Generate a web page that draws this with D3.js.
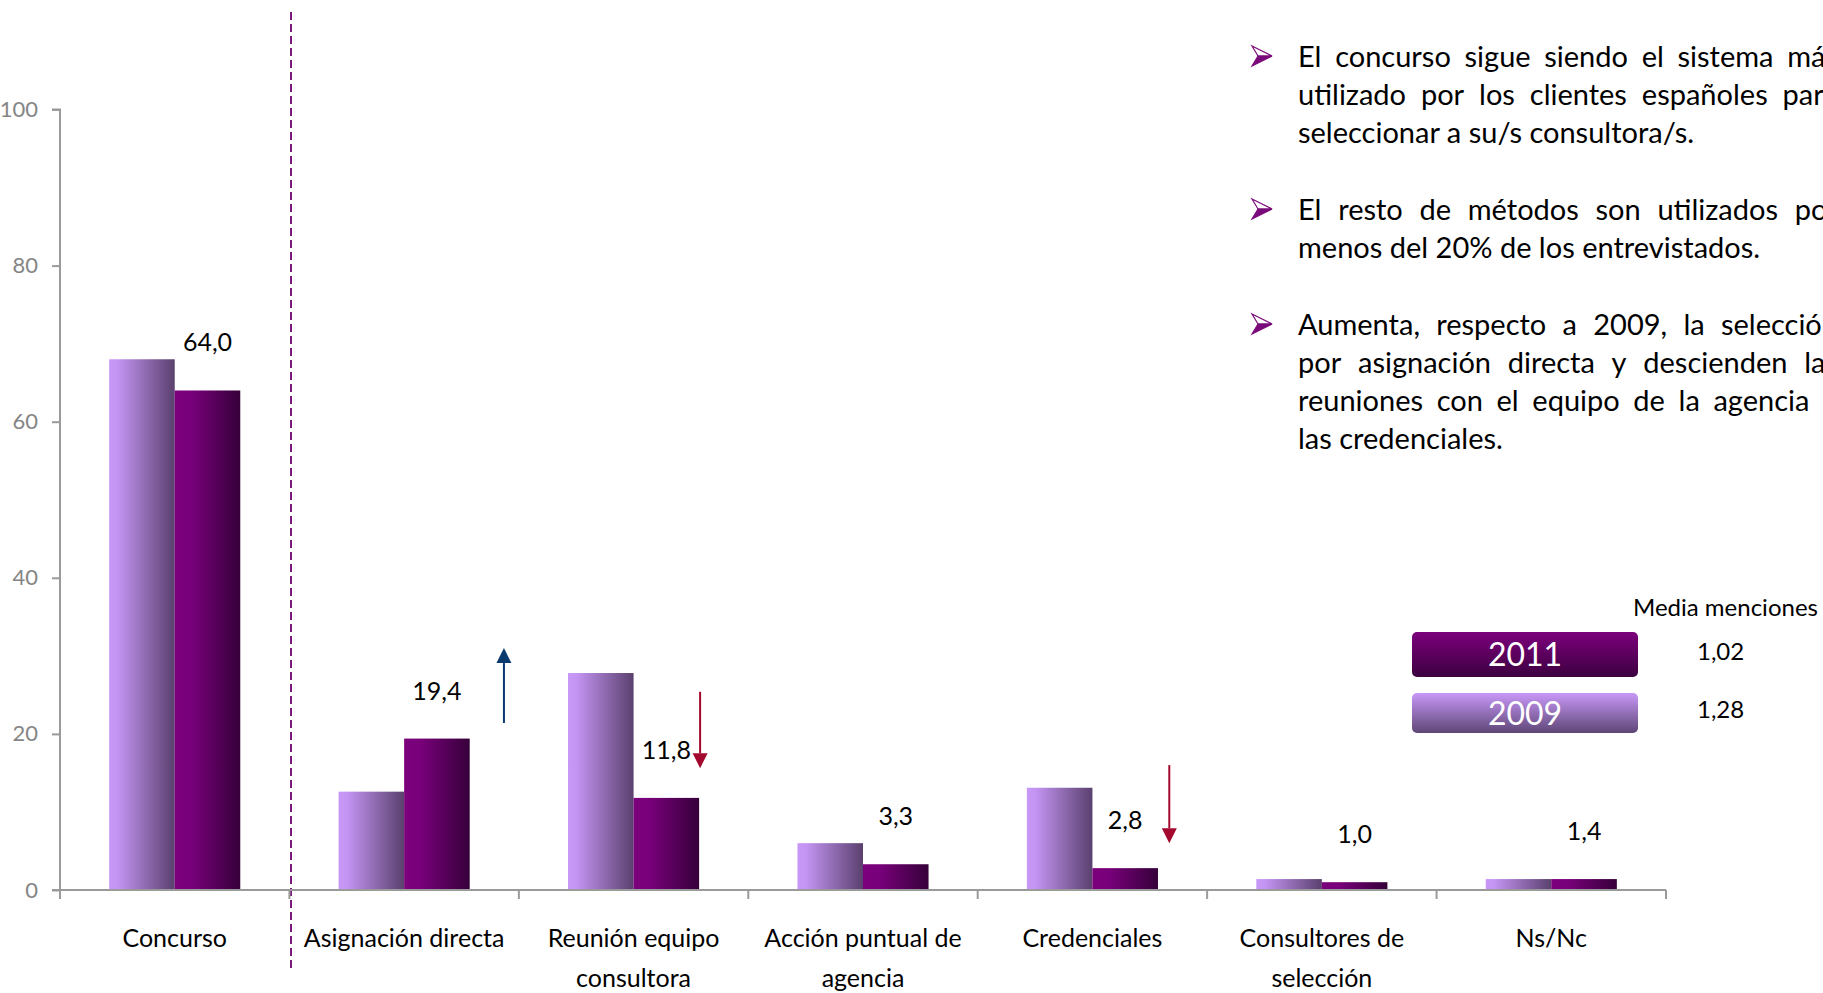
<!DOCTYPE html>
<html><head><meta charset="utf-8">
<script src="https://cdn.jsdelivr.net/npm/d3@7"></script>
<style>
html,body{margin:0;padding:0;background:#fff;overflow:hidden}
svg{display:block}
text{font-family:Lato,"Open Sans",sans-serif}
</style>
</head><body>
<svg id="chart" width="1823" height="993"></svg>
<script>
// ---------- data ----------
const categories = ["Concurso","Asignación directa","Reunión equipo consultora","Acción puntual de agencia","Credenciales","Consultores de selección","Ns/Nc"];
const categoryLines = [["Concurso"],["Asignación directa"],["Reunión equipo","consultora"],["Acción puntual de","agencia"],["Credenciales"],["Consultores de","selección"],["Ns/Nc"]];
const series = ["2009","2011"];
const values2009 = [68.0, 12.6, 27.8, 6.0, 13.1, 1.4, 1.4];
const values2011 = [64.0, 19.4, 11.8, 3.3, 2.8, 1.0, 1.4];
const yTicks = [0,20,40,60,80,100];
const legendYears = ["2011","2009"];
const legendMentions = ["1,02","1,28"];
const mentionsTitle = "Media menciones";
// trend arrows: category, direction, from value, to value
const trendCats = ["Asignación directa","Reunión equipo consultora","Credenciales"];
const trendFrom = [21.4, 25.4, 16.0];
const trendTo = [31.0, 15.6, 6.0];
const trendColor = ["#0b3a6e","#a3092e","#a3092e"];
const trendPos = [0.935, 0.79, 0.835];
const bulletParas = [
  ["El concurso sigue siendo el sistema más","utilizado por los clientes españoles para","seleccionar a su/s consultora/s."],
  ["El resto de métodos son utilizados por","menos del 20% de los entrevistados."],
  ["Aumenta, respecto a 2009, la selección","por asignación directa y descienden las","reuniones con el equipo de la agencia y","las credenciales."]
];

// ---------- layout ----------
const svg = d3.select("#chart");
const defs = svg.append("defs");
function hGrad(id, stops){
  const g = defs.append("linearGradient").attr("id",id).attr("x1","0").attr("x2","1").attr("y1","0").attr("y2","0");
  stops.forEach(s=>g.append("stop").attr("offset",s[0]).attr("stop-color",s[1]));
}
function vGrad(id, stops){
  const g = defs.append("linearGradient").attr("id",id).attr("x1","0").attr("x2","0").attr("y1","0").attr("y2","1");
  stops.forEach(s=>g.append("stop").attr("offset",s[0]).attr("stop-color",s[1]));
}
hGrad("g2009",[[0,"#c898f8"],[0.12,"#c595f4"],[1,"#5a406e"]]);
hGrad("g2011",[[0,"#7c007c"],[0.25,"#78007a"],[1,"#36003a"]]);
vGrad("l2011",[[0,"#7c007c"],[1,"#3c0040"]]);
vGrad("l2009",[[0,"#c898f8"],[1,"#5e4676"]]);

const y = d3.scaleLinear().domain([0,100]).range([890,109.5]);
const x0 = d3.scaleBand().domain(categories).range([60,1666]).padding(0);
const x1 = d3.scaleBand().domain(series).range([0,x0.bandwidth()]).paddingInner(0).paddingOuter(0.75);
const fmt = v => d3.format(".1f")(v).replace(".",",");

// dashed separator
svg.append("line").attr("x1",291).attr("x2",291).attr("y1",12).attr("y2",968)
  .attr("stroke","#7a1a7a").attr("stroke-width",2).attr("stroke-dasharray","8,4");

// y axis
const yAxis = svg.append("g").attr("transform","translate(60,0)")
  .call(d3.axisLeft(y).tickValues(yTicks).tickSize(8).tickPadding(14).tickFormat(d3.format("d")));
yAxis.selectAll("path,line").attr("stroke","#9a9a9a").attr("stroke-width",2);
yAxis.select(".domain").attr("d","M-8,109.5H0V890");
yAxis.selectAll("text").attr("fill","#858585").style("font-size","22px").style("font-family","Lato");

// bars
const data = categories.map((c,i)=>({cat:c, v:{"2009":values2009[i],"2011":values2011[i]}}));
const groups = svg.append("g").selectAll("g").data(data).join("g")
  .attr("transform",d=>`translate(${x0(d.cat)},0)`);
groups.selectAll("rect").data(d=>series.map(s=>({s, v:d.v[s]}))).join("rect")
  .attr("x",d=>x1(d.s)).attr("width",x1.bandwidth())
  .attr("y",d=>y(d.v)).attr("height",d=>y(0)-y(d.v))
  .attr("fill",d=>`url(#g${d.s})`);

// x axis
const xa = svg.append("g");
xa.append("line").attr("x1",52).attr("x2",x0.range()[1]).attr("y1",y(0)).attr("y2",y(0))
  .attr("stroke","#9a9a9a").attr("stroke-width",2);
const bounds = categories.map(c=>x0(c)).concat([x0.range()[1]]);
xa.selectAll("line.t").data(bounds).join("line").attr("class","t")
  .attr("x1",d=>d).attr("x2",d=>d).attr("y1",y(0)).attr("y2",y(0)+9)
  .attr("stroke","#9a9a9a").attr("stroke-width",2);
// category labels
categories.forEach((c,i)=>{
  const t = svg.append("text").attr("text-anchor","middle")
    .attr("x",x0(c)+x0.bandwidth()/2).attr("y",947)
    .style("font-size","25px").attr("fill","#000");
  categoryLines[i].forEach((ln,j)=>t.append("tspan").attr("x",x0(c)+x0.bandwidth()/2).attr("dy",j?40:0).text(ln));
});

// value labels (2011)
svg.append("g").selectAll("text").data(data).join("text")
  .attr("text-anchor","middle")
  .attr("x",d=>x0(d.cat)+x1("2011")+x1.bandwidth()/2)
  .attr("y",d=>y(d.v["2011"])-39)
  .style("font-size","25px").attr("fill","#000")
  .text(d=>fmt(d.v["2011"]));

// trend arrows
trendCats.forEach((c,i)=>{
  const ax = x0(c)+x0.bandwidth()*trendPos[i];
  const ya = y(trendFrom[i]), yb = y(trendTo[i]);
  const dir = yb<ya ? -1 : 1;
  const head = 15;
  svg.append("line").attr("x1",ax).attr("x2",ax).attr("y1",ya).attr("y2",yb-dir*head)
    .attr("stroke",trendColor[i]).attr("stroke-width",2);
  svg.append("path").attr("d",`M${ax},${yb} L${ax-7.5},${yb-dir*head} L${ax+7.5},${yb-dir*head} Z`)
    .attr("fill",trendColor[i]);
});

// legend
const legY = [632,693], legH = [45,40];
legendYears.forEach((yr,i)=>{
  svg.append("rect").attr("x",1412).attr("y",legY[i]).attr("width",226).attr("height",legH[i])
    .attr("rx",5).attr("fill",`url(#l${yr})`);
  svg.append("text").attr("x",1525).attr("y",legY[i]+legH[i]/2).attr("dy","0.36em")
    .attr("text-anchor","middle").attr("fill","#fff").style("font-size","32px").text(yr);
  svg.append("text").attr("x",1697).attr("y",[660,718][i]).style("font-size","24px").attr("fill","#000").text(legendMentions[i]);
});
svg.append("text").attr("x",1633).attr("y",616).style("font-size","24px").attr("fill","#000").text(mentionsTitle);

// bullet text block
const tx = 1298, R = 1838, lineH = 38;
const paraStart = [67, 220, 335];
bulletParas.forEach((para,pi)=>{
  const by = paraStart[pi];
  // bullet arrowhead
  const bx = 1252, bcy = by-11;
  svg.append("path").attr("d",`M${bx},${bcy-10} L${bx+20},${bcy} L${bx+6},${bcy} Z`)
    .attr("fill","#fff").attr("stroke","#7a0a7a").attr("stroke-width",1.2);
  svg.append("path").attr("d",`M${bx},${bcy+10} L${bx+20},${bcy} L${bx+6},${bcy} Z`)
    .attr("fill","#7a0a7a").attr("stroke","#7a0a7a").attr("stroke-width",1.2);
  para.forEach((ln,li)=>{
    const ly = by + li*lineH;
    const last = li===para.length-1;
    const t = svg.append("text").attr("y",ly).style("font-size","29px").attr("fill","#000");
    if(last){ t.attr("x",tx).text(ln); return; }
    const words = ln.split(" ");
    const widths = words.map(w=>{
      const m = svg.append("text").style("font-size","29px").text(w);
      const wd = m.node().getComputedTextLength(); m.remove(); return wd;
    });
    const gap = (R - tx - d3.sum(widths))/(words.length-1);
    let cx = tx;
    words.forEach((w,k)=>{ t.append("tspan").attr("x",cx).text(w); cx += widths[k]+gap; });
  });
});
</script>
</body></html>
